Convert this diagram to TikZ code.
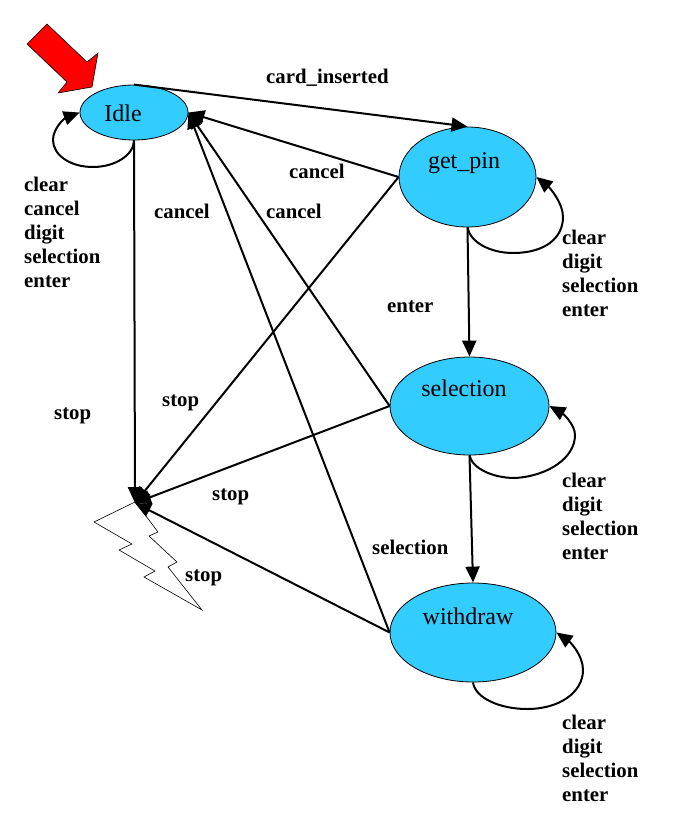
\documentclass[tikz,border=0pt]{standalone}
\usepackage{fontspec}
\setmainfont{Liberation Serif}
\usetikzlibrary{shapes.geometric,arrows.meta}
\definecolor{statefill}{RGB}{51,204,255}
\tikzset{
  statebox/.style={ellipse,draw=black,line width=0.8pt,fill=statefill,inner sep=0pt},
  statetext/.style={inner sep=0pt,font=\fontsize{24}{24}\selectfont},
  edgelabel/.style={inner sep=0pt,font=\fontsize{20.8}{24}\selectfont\bfseries},
  looplabel/.style={edgelabel,align=left,anchor=north west},
  link/.style={line width=2pt,-{Triangle[length=16pt,width=14pt]}},
}
\begin{document}
\begin{tikzpicture}[x=1pt,y=-1pt]
\useasboundingbox (0,0) rectangle (676,838);
% start arrow
\draw[fill=red,draw=black,line width=0.6pt] (47,24) -- (27,44) -- (67,82) -- (58,93) -- (92,87) -- (98,53) -- (87,62) -- cycle;
% lightning
\draw[fill=white,draw=black,line width=0.6pt] (135,502) -- (94,522) -- (132,544) -- (119,550) -- (155,571) -- (144,577) -- (202,610) -- (168,567) -- (177,562) -- (149,536) -- (158,532) -- (143,512) -- cycle;
\coordinate (hub) at (135,503);
% states
\node[statebox,minimum width=108pt,minimum height=55pt] (idle) at (134,112.5) {};
\node[statebox,minimum width=137pt,minimum height=100pt] (getpin) at (467.5,177) {};
\node[statebox,minimum width=159pt,minimum height=98pt] (selection) at (469.5,406) {};
\node[statebox,minimum width=166pt,minimum height=99pt] (withdraw) at (473,632.5) {};
\node[statetext] (idletext) at (123,113) {Idle};
\node[statetext] (getpintext) at (464,163) {get\_pin};
\node[statetext] (selectiontext) at (464,388) {selection};
\node[statetext] (withdrawtext) at (468,616) {withdraw};
% edges
\draw[link] (idle.north) -- (getpin.north);
\draw[link] (idle.south) -- (hub);
\draw[link] (getpin.west) -- (idle.east);
\draw[link] (getpin.west) -- (hub);
\draw[link] (selection.west) -- (idle.east);
\draw[link] (selection.west) -- (hub);
\draw[link] (withdraw.west) -- (idle.east);
\draw[link] (withdraw.west) -- (hub);
\draw[link] (getpin.south) -- (selection.north);
\draw[link] (selection.south) -- (withdraw.north);
% self loops
\draw[link] (idle.south) .. controls (134,155) and (115,167) .. (93,167) .. controls (70,167) and (53,155) .. (53,140) .. controls (53,128) and (65,118) .. (idle.west);
\draw[link] (getpin.south) .. controls (470,242) and (490,253) .. (513,253) .. controls (545,253) and (563,238) .. (563,217) .. controls (563,203) and (550,188) .. (getpin.east);
\draw[link] (selection.south) .. controls (472,468) and (492,478) .. (515,478) .. controls (548,476) and (575,458) .. (575,435) .. controls (575,424) and (562,413) .. (selection.east);
\draw[link] (withdraw.south) .. controls (475,698) and (500,709) .. (527,709) .. controls (560,709) and (583,692) .. (583,670) .. controls (583,655) and (570,642) .. (withdraw.east);
% labels
\node[edgelabel,anchor=west] (l1) at (266,78) {card\_inserted};
\node[edgelabel,anchor=west] (l2) at (289,171) {cancel};
\node[edgelabel,anchor=west] (l3) at (154,211) {cancel};
\node[edgelabel,anchor=west] (l4) at (266,211) {cancel};
\node[edgelabel,anchor=west] (l5) at (387,307) {enter};
\node[edgelabel,anchor=west] (l6) at (162,403) {stop};
\node[edgelabel,anchor=west] (l7) at (54,416) {stop};
\node[edgelabel,anchor=west] (l8) at (212,497) {stop};
\node[edgelabel,anchor=west] (l9) at (185,578) {stop};
\node[edgelabel,anchor=west] (l10) at (372,547) {selection};
\node[looplabel] (l11) at (24,177) {clear\\cancel\\digit\\selection\\enter};
\node[looplabel] (l12) at (562,230) {clear\\digit\\selection\\enter};
\node[looplabel] (l13) at (562,473) {clear\\digit\\selection\\enter};
\node[looplabel] (l14) at (562,715) {clear\\digit\\selection\\enter};
\end{tikzpicture}
\end{document}
